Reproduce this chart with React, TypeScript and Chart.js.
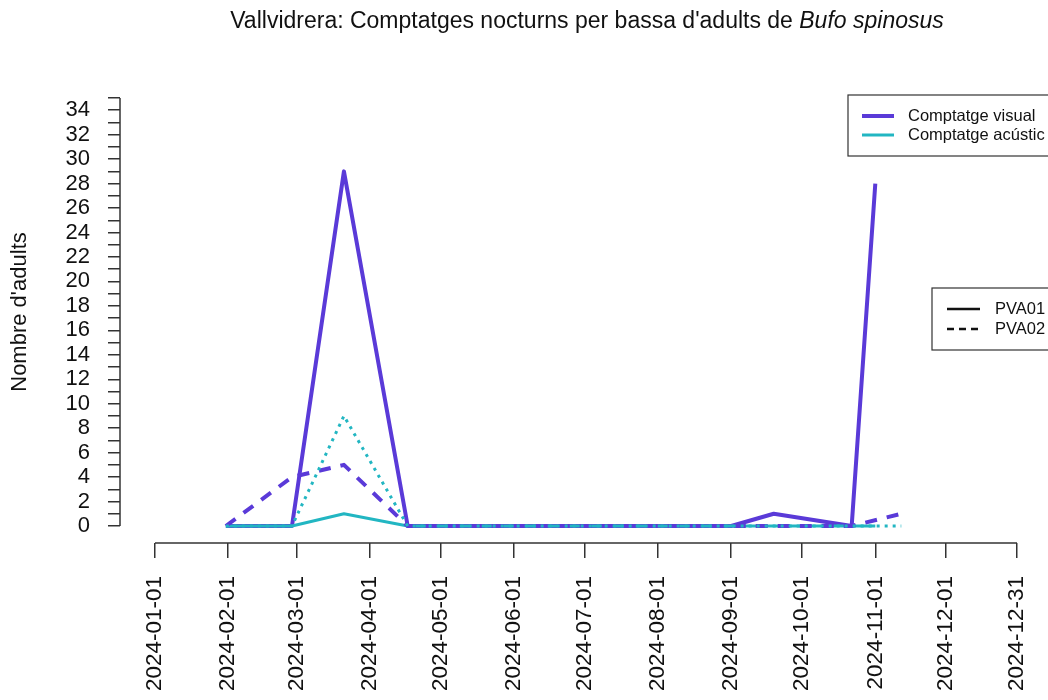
import React, { useEffect, useRef } from "react";
import { Chart, registerables } from "chart.js";

Chart.register(...registerables);

// ---- data ----
const datesPVA01 = ["2024-01-31", "2024-02-28", "2024-03-21", "2024-04-17", "2024-09-01", "2024-09-19", "2024-10-22", "2024-11-01"];
const visualPVA01 = [0, 0, 29, 0, 0, 1, 0, 28];
const acousticPVA01 = [0, 0, 1, 0, 0, 0, 0, 0];
const datesPVA02 = ["2024-01-31", "2024-02-28", "2024-03-21", "2024-04-17", "2024-09-01", "2024-09-19", "2024-10-22", "2024-11-12"];
const visualPVA02 = [0, 4, 5, 0, 0, 0, 0, 1];
const acousticPVA02 = [0, 0, 9, 0, 0, 0, 0, 0];
const xTickDates = ["2024-01-01", "2024-02-01", "2024-03-01", "2024-04-01", "2024-05-01", "2024-06-01", "2024-07-01", "2024-08-01", "2024-09-01", "2024-10-01", "2024-11-01", "2024-12-01", "2024-12-31"];
const yTicks = Array.from({ length: 36 }, (_, i) => i);

const TITLE = "Vallvidrera: Comptatges nocturns per bassa d'adults de ";
const TITLE_IT = "Bufo spinosus";
const YLABEL = "Nombre d'adults";
const seriesLabels = ["Comptatge visual", "Comptatge acústic"];
const siteLabels = ["PVA01", "PVA02"];

const PURPLE = "#5a3ad8";
const CYAN = "#22b6c2";
const FONT = "'Liberation Sans', Arial, sans-serif";

const BASE = Date.UTC(2024, 0, 1);
const day = (s: string) => {
  const [y, m, d] = s.split("-").map(Number);
  return (Date.UTC(y, m - 1, d) - BASE) / 86400000;
};
const pts = (dates: string[], vals: number[]) => dates.map((d, i) => ({ x: day(d), y: vals[i] }));

const decorPlugin = {
  id: "decor",
  afterDraw(chart: any) {
    const ctx = chart.ctx;
    const xs = chart.scales.x;
    const ys = chart.scales.y;
    const area = chart.chartArea;
    ctx.save();
    // axis lines
    ctx.strokeStyle = "#333";
    ctx.lineWidth = 1.5;
    ctx.beginPath();
    ctx.moveTo(area.left, ys.getPixelForValue(0));
    ctx.lineTo(area.left, ys.getPixelForValue(35));
    ctx.stroke();
    ctx.beginPath();
    ctx.moveTo(xs.getPixelForValue(day(xTickDates[0])), area.bottom);
    ctx.lineTo(xs.getPixelForValue(day(xTickDates[xTickDates.length - 1])), area.bottom);
    ctx.stroke();

    // title
    ctx.fillStyle = "#111";
    ctx.textBaseline = "alphabetic";
    ctx.font = `23px ${FONT}`;
    const w1 = ctx.measureText(TITLE).width;
    ctx.font = `italic 23px ${FONT}`;
    const w2 = ctx.measureText(TITLE_IT).width;
    const cx = (area.left + area.right) / 2;
    const sx = cx - (w1 + w2) / 2;
    ctx.font = `23px ${FONT}`;
    ctx.textAlign = "left";
    ctx.fillText(TITLE, sx, 28);
    ctx.font = `italic 23px ${FONT}`;
    ctx.fillText(TITLE_IT, sx + w1, 28);

    // y label
    ctx.save();
    ctx.translate(20, (area.top + area.bottom) / 2);
    ctx.rotate(-Math.PI / 2);
    ctx.font = `22px ${FONT}`;
    ctx.textAlign = "center";
    ctx.textBaseline = "middle";
    ctx.fillText(YLABEL, 0, 0);
    ctx.restore();

    // legend 1
    ctx.fillStyle = "#fff";
    ctx.strokeStyle = "#333";
    ctx.lineWidth = 1.2;
    ctx.fillRect(848, 95, 220, 61);
    ctx.strokeRect(848, 95, 220, 61);
    ctx.font = `16.5px ${FONT}`;
    ctx.textAlign = "left";
    ctx.textBaseline = "middle";
    const l1 = [
      { c: PURPLE, w: 4, t: seriesLabels[0], y: 116 },
      { c: CYAN, w: 3, t: seriesLabels[1], y: 135 },
    ];
    l1.forEach((e) => {
      ctx.strokeStyle = e.c;
      ctx.lineWidth = e.w;
      ctx.beginPath();
      ctx.moveTo(862, e.y);
      ctx.lineTo(894, e.y);
      ctx.stroke();
      ctx.fillStyle = "#111";
      ctx.fillText(e.t, 908, e.y);
    });

    // legend 2
    ctx.fillStyle = "#fff";
    ctx.strokeStyle = "#333";
    ctx.lineWidth = 1.2;
    ctx.fillRect(932, 288, 140, 62);
    ctx.strokeRect(932, 288, 140, 62);
    const l2 = [
      { d: [] as number[], t: siteLabels[0], y: 309 },
      { d: [7, 5], t: siteLabels[1], y: 329 },
    ];
    l2.forEach((e) => {
      ctx.strokeStyle = "#111";
      ctx.lineWidth = 2.5;
      ctx.setLineDash(e.d);
      ctx.beginPath();
      ctx.moveTo(947, e.y);
      ctx.lineTo(980, e.y);
      ctx.stroke();
      ctx.setLineDash([]);
      ctx.fillStyle = "#111";
      ctx.fillText(e.t, 995, e.y);
    });
    ctx.restore();
  },
};

export default function App() {
  const ref = useRef<HTMLCanvasElement | null>(null);
  useEffect(() => {
    if (!ref.current) return;
    const kx = 862 / 365;
    const ky = 428 / 35;
    const common = { pointRadius: 0, borderJoinStyle: "round", borderCapStyle: "butt" };
    const chart = new Chart(ref.current, {
      type: "line",
      data: {
        datasets: [
          {
            ...common,
            label: "acoustic PVA02",
            data: pts(datesPVA02, acousticPVA02),
            borderColor: CYAN,
            borderWidth: 3,
            borderDash: [3, 5],
            order: 0,
          },
          {
            ...common,
            label: "visual PVA02",
            data: pts(datesPVA02, visualPVA02),
            borderColor: PURPLE,
            borderWidth: 4,
            borderDash: [12, 10],
            order: 1,
          },
          {
            ...common,
            label: "acoustic PVA01",
            data: pts(datesPVA01, acousticPVA01),
            borderColor: CYAN,
            borderWidth: 3,
            order: 2,
          },
          {
            ...common,
            label: "visual PVA01",
            data: pts(datesPVA01, visualPVA01),
            borderColor: PURPLE,
            borderWidth: 4,
            order: 3,
          },
        ],
      },
      options: {
        animation: false,
        responsive: false,
        layout: { padding: { top: 81, right: 10, left: 0, bottom: 0 } },
        plugins: { legend: { display: false }, title: { display: false }, tooltip: { enabled: false } },
        scales: {
          x: {
            type: "linear",
            min: -35 / kx,
            max: 365 + 37 / kx,
            border: { display: false },
            grid: { display: true, drawOnChartArea: false, drawTicks: true, tickLength: 15, color: "#333", lineWidth: 1.5 },
            afterBuildTicks: (s: any) => {
              s.ticks = xTickDates.map((d) => ({ value: day(d) }));
            },
            afterFit: (s: any) => {
              s.height = 157;
            },
            ticks: {
              autoSkip: false,
              minRotation: 90,
              maxRotation: 90,
              padding: 18,
              color: "#111",
              font: { size: 22.5, family: FONT },
              callback: (v: any) => {
                const i = xTickDates.findIndex((d) => day(d) === v);
                return i >= 0 ? xTickDates[i] : "";
              },
            },
          },
          y: {
            type: "linear",
            min: -17 / ky,
            max: 35 + 17 / ky,
            border: { display: false },
            grid: { display: true, drawOnChartArea: false, drawTicks: true, tickLength: 12, color: "#333", lineWidth: 1.5 },
            afterBuildTicks: (s: any) => {
              s.ticks = yTicks.map((v) => ({ value: v }));
            },
            afterFit: (s: any) => {
              s.width = 120;
            },
            ticks: {
              autoSkip: false,
              padding: 18,
              color: "#111",
              font: { size: 22, family: FONT },
              callback: (v: any) => (Number(v) % 2 === 0 ? String(v) : ""),
            },
          },
        },
      },
      plugins: [decorPlugin],
    } as any);
    return () => chart.destroy();
  }, []);
  return (
    <div style={{ position: "fixed", left: 0, top: 0, width: 1048, height: 700, overflow: "hidden", background: "#fff" }}>
      <canvas ref={ref} width={1064} height={700} style={{ width: 1064, height: 700, display: "block" }} />
    </div>
  );
}
